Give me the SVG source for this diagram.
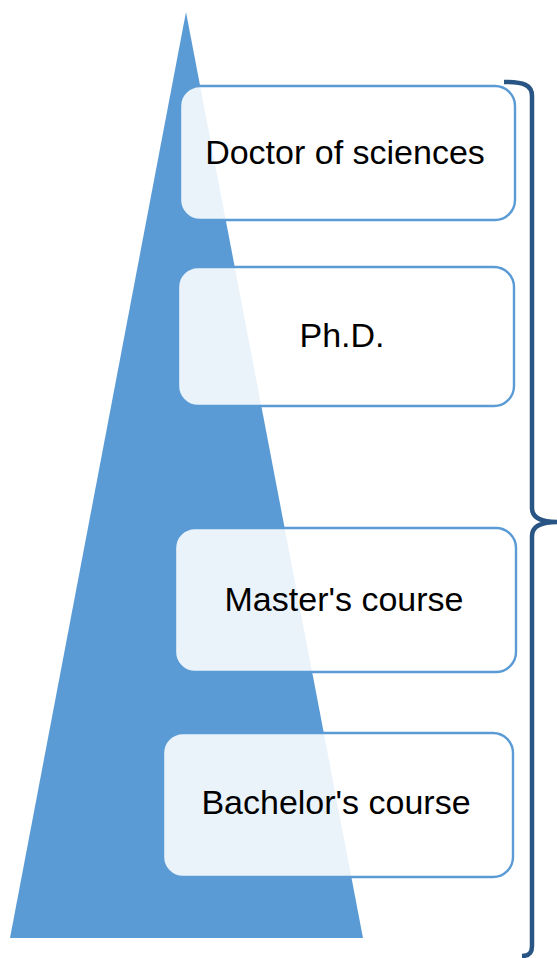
<svg xmlns="http://www.w3.org/2000/svg" width="557" height="958" viewBox="0 0 557 958">
<style>
.box{fill:#ffffff;fill-opacity:0.88;stroke:#5B9BD5;stroke-width:2.4}
.lbl{font-family:"Liberation Sans",Arial,sans-serif;font-size:34px;fill:#000;text-anchor:middle}
</style>
<rect width="557" height="958" fill="#ffffff"/>
<g id="pyramid"><polygon points="186,12 363,938 10,938" fill="#5B9BD5"/></g>
<g id="connectors">
<path d="M504,82 C524,82 532,85 532,96 L532,508 C532,517 540,522 557,522 C540,522 532,527 532,536 L532,946 C532,953 529,956 522,956" fill="none" stroke="#285583" stroke-width="4.5"/>
</g>
<g id="doctor"><rect class="box" x="180" y="86" width="335" height="134" rx="20"/><text class="lbl" x="345" y="164">Doctor of sciences</text></g>
<g id="phd"><rect class="box" x="178" y="267" width="336" height="139" rx="20"/><text class="lbl" x="342" y="347">Ph.D.</text></g>
<g id="master"><rect class="box" x="175" y="528" width="341" height="144" rx="20"/><text class="lbl" x="344" y="611">Master's course</text></g>
<g id="bachelor"><rect class="box" x="163" y="733" width="350" height="144" rx="20"/><text class="lbl" x="336" y="814">Bachelor's course</text></g>
</svg>
